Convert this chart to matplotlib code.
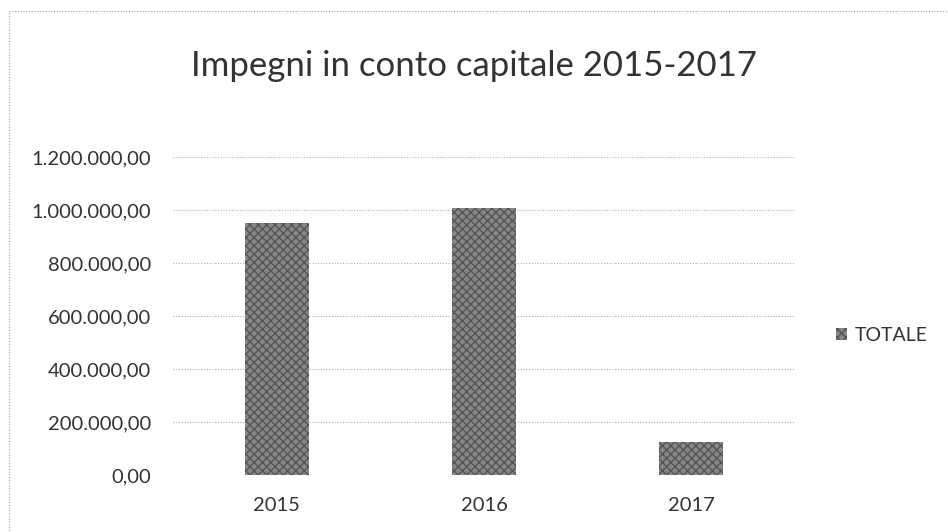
import matplotlib
matplotlib.use("Agg")
import matplotlib.pyplot as plt
import matplotlib.patches as mpatches
from matplotlib.ticker import FuncFormatter

anni = ["2015", "2016", "2017"]
totale = [951000, 1009000, 123000]
y_ticks = [0, 200000, 400000, 600000, 800000, 1000000, 1200000]

plt.rcParams['font.family'] = ['Lato', 'DejaVu Sans']

def formato_it(v, pos=None):
    s = f"{v:,.2f}"
    return s.replace(",", "X").replace(".", ",").replace("X", ".")

fig = plt.figure(figsize=(9.48, 5.32), dpi=100)
ax = fig.add_axes([0.1825, 0.1071, 0.656, 0.5977])

x = range(len(anni))
ax.bar(x, totale, width=0.31, color="#878787", edgecolor="#555555", hatch="xxxx", linewidth=0, label="TOTALE", zorder=3)

ax.set_xlim(-0.5, 2.5)
ax.set_ylim(0, 1200000)
ax.set_yticks(y_ticks)
ax.yaxis.set_major_formatter(FuncFormatter(formato_it))
ax.set_xticks(list(x))
ax.set_xticklabels(anni)
ax.tick_params(axis="y", length=0, pad=16, labelsize=14.5, labelcolor="#333333")
ax.tick_params(axis="x", length=0, pad=16, labelsize=14.5, labelcolor="#333333")
ax.grid(axis="y", linestyle=(0, (1, 1.5)), color="#b0b0b0", linewidth=0.8, zorder=0)
for s in ax.spines.values():
    s.set_visible(False)

fig.text(0.5, 0.875, "Impegni in conto capitale 2015-2017", ha="center", va="center", fontsize=25, color="#333333")

handle = mpatches.Patch(facecolor="#878787", edgecolor="#555555", hatch="xxxx", linewidth=0)
fig.legend([handle], ["TOTALE"], loc="center left", bbox_to_anchor=(0.863, 0.37), frameon=False,
           fontsize=14, handlelength=0.6, handleheight=0.6, handletextpad=0.4, labelcolor="#333333")

border = mpatches.Rectangle((0.009, -0.02), 1.2, 1.0, transform=fig.transFigure, fill=False,
                            edgecolor="#a0a0a0", linestyle=(0, (1, 1.5)), linewidth=0.8)
fig.add_artist(border)

fig.savefig("out.png", dpi=100)
